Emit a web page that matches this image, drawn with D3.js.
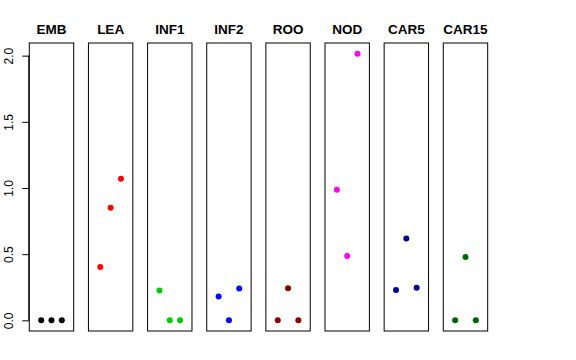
<!DOCTYPE html>
<html><head><meta charset="utf-8">
<script src="https://cdn.jsdelivr.net/npm/d3@7"></script>
<style>body{margin:0;background:#fff}svg{display:block}</style>
</head><body>
<script>
const categories = ["EMB","LEA","INF1","INF2","ROO","NOD","CAR5","CAR15"];
const rep1 = [0, 0.403, 0.225, 0.18, 0, 0.986, 0.23, 0];
const rep2 = [0, 0.85, 0, 0, 0.242, 0.487, 0.618, 0.479];
const rep3 = [0, 1.069, 0, 0.24, 0, 2.015, 0.247, 0];
const colors = ["#000000","#FF0000","#00CD00","#0000FF","#8B0000","#FF00FF","#00008B","#006400"];
const yTicks = [0, 0.5, 1.0, 1.5, 2.0];
const yTickLabels = ["0.0","0.5","1.0","1.5","2.0"];

(function(){
const W = 576, H = 360;
const svg = d3.select("body").append("svg").attr("width", W).attr("height", H);
const plotTop = 43, plotBottom = 331, panelW = 44.4, step = 59.14, left0 = 29.3;

const all = rep1.concat(rep2, rep3);
const ymax = d3.max(all), ymin = d3.min(all);
const pad = (ymax - ymin) * 0.04;
const y = d3.scaleLinear().domain([ymin - pad, ymax + pad]).range([plotBottom, plotTop]);

const font = "'Liberation Sans', Arial, Helvetica, sans-serif";

const ax = svg.append("g").attr("transform", `translate(${left0},0)`)
  .call(d3.axisLeft(y).tickValues(yTicks).tickFormat((d,i)=>yTickLabels[i]).tickSize(7).tickPadding(0));
ax.select(".domain").attr("d", `M-0.5,${y(0)}V${y(2)}`).attr("stroke","#000");
ax.selectAll(".tick line").attr("stroke","#000");
ax.selectAll(".tick text")
  .attr("transform", "rotate(-90)")
  .attr("x", 0).attr("y", -16).attr("dy", 0)
  .attr("text-anchor", "middle")
  .style("font-family", font).style("font-size", "12px").attr("fill","#000");

categories.forEach((c, i) => {
  const x0 = left0 + i * step;
  const x = d3.scaleLinear().domain([-0.155, 4.155]).range([x0, x0 + panelW]);
  const g = svg.append("g");
  g.append("rect").attr("x", x0).attr("y", plotTop).attr("width", panelW).attr("height", plotBottom - plotTop)
    .attr("fill", "none").attr("stroke", "#000").attr("stroke-width", 1);
  g.append("text").attr("x", x0 + panelW / 2).attr("y", 34).attr("text-anchor", "middle")
    .style("font-family", font).style("font-size", "13.5px").style("font-weight", "bold").text(c);
  const vals = [rep1[i], rep2[i], rep3[i]];
  g.selectAll("circle").data(vals).join("circle")
    .attr("cx", (d, j) => x(j + 1)).attr("cy", d => y(d)).attr("r", 3)
    .attr("fill", colors[i]);
});
})();
</script>
</body></html>
